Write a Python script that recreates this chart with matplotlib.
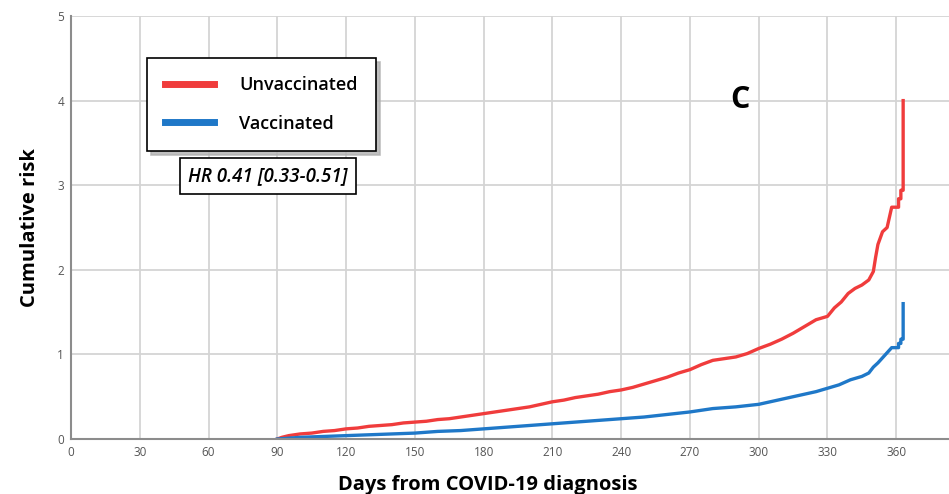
import matplotlib
matplotlib.use('Agg')
from matplotlib import pyplot as plt

# cumulative risk (days from diagnosis, risk)
# repeated days = vertical jumps at the end of follow-up
red_days = [90, 92, 95, 100, 105, 110, 115, 120, 125, 130, 135, 140, 145, 150, 155, 160,
            165, 170, 175, 180, 185, 190, 195, 200, 205, 210, 215, 220, 225, 230, 235, 240,
            245, 250, 255, 260, 265, 270, 275, 280, 285, 290, 295, 300, 305, 310, 315, 320,
            325, 330, 333, 336, 339, 342, 345, 348, 350, 351, 352, 354, 356, 357, 358, 361,
            361, 362, 362, 363, 363]
red_risk = [0.00, 0.02, 0.04, 0.06, 0.07, 0.09, 0.10, 0.12, 0.13, 0.15, 0.16, 0.17, 0.19, 0.20,
            0.21, 0.23, 0.24, 0.26, 0.28, 0.30, 0.32, 0.34, 0.36, 0.38, 0.41, 0.44, 0.46, 0.49,
            0.51, 0.53, 0.56, 0.58, 0.61, 0.65, 0.69, 0.73, 0.78, 0.82, 0.88, 0.93, 0.95, 0.97,
            1.01, 1.07, 1.12, 1.18, 1.25, 1.33, 1.41, 1.45, 1.55, 1.62, 1.72, 1.78, 1.82, 1.88,
            1.98, 2.15, 2.30, 2.45, 2.50, 2.62, 2.74, 2.74, 2.84, 2.84, 2.94, 2.94, 4.00]

blue_days = [90, 95, 100, 110, 120, 130, 140, 150, 160, 170, 180, 190, 200, 210, 220, 230,
             240, 250, 260, 270, 280, 290, 300, 305, 310, 315, 320, 325, 330, 335, 340, 345,
             348, 350, 352, 354, 356, 358, 361, 361, 362, 362, 363, 363]
blue_risk = [0.00, 0.01, 0.02, 0.03, 0.04, 0.05, 0.06, 0.07, 0.09, 0.10, 0.12, 0.14, 0.16,
             0.18, 0.20, 0.22, 0.24, 0.26, 0.29, 0.32, 0.36, 0.38, 0.41, 0.44, 0.47, 0.50,
             0.53, 0.56, 0.60, 0.64, 0.70, 0.74, 0.78, 0.85, 0.90, 0.96, 1.02, 1.08, 1.08,
             1.13, 1.13, 1.18, 1.18, 1.60]

x_ticks = [0, 30, 60, 90, 120, 150, 180, 210, 240, 270, 300, 330, 360]
y_ticks = [0, 1, 2, 3, 4, 5]

plt.rcParams['font.family'] = ['Open Sans', 'DejaVu Sans']

fig = plt.figure(figsize=(9.49, 4.94), dpi=100)
ax = fig.add_axes([0.0748, 0.1113, 0.9252, 0.8563])

ax.plot(red_days, red_risk, color='#f03c3c', lw=2.4, label='Unvaccinated')
ax.plot(blue_days, blue_risk, color='#1f78c8', lw=2.4, label='Vaccinated')

ax.set_xlim(0, 383)
ax.set_ylim(0, 5)
ax.set_xticks(x_ticks)
ax.set_yticks(y_ticks)
ax.grid(True, color='#d4d4d4', lw=1.3)
ax.set_axisbelow(True)
for s in ['top', 'right']:
    ax.spines[s].set_visible(False)
for s in ['left', 'bottom']:
    ax.spines[s].set_color('#8c8c8c')
    ax.spines[s].set_linewidth(1.5)
ax.tick_params(length=0, labelsize=8.5, labelcolor='#555555', pad=5)

ax.set_xlabel('Days from COVID-19 diagnosis', fontsize=14.5, fontweight='bold')
ax.xaxis.set_label_coords(0.475, -0.085)
ax.set_ylabel('Cumulative risk', fontsize=14.5, fontweight='bold', labelpad=12)

leg = ax.legend(loc='upper left', bbox_to_anchor=(0.155, 0.8826), bbox_transform=fig.transFigure,
                fancybox=False, shadow={'ox': 3, 'oy': -3, 'color': '#b0b0b0', 'alpha': 0.8},
                framealpha=1, edgecolor='black',
                prop={'size': 13, 'weight': 'semibold'}, handlelength=2.7, handletextpad=1.4,
                labelspacing=1.15, borderpad=1.0, borderaxespad=0)
leg.get_frame().set_linewidth(1.2)
for line in leg.get_lines():
    line.set_linewidth(5)

fig.text(0.2824, 0.6437, 'HR 0.41 [0.33-0.51]', ha='center', va='center', fontsize=13.5,
         style='italic', fontweight='semibold',
         bbox=dict(boxstyle='square,pad=0.45', fc='white', ec='black', lw=1.2))

ax.text(0.7795, 0.7976, 'C', transform=fig.transFigure, ha='center', va='center',
        fontsize=22, fontweight='bold')

plt.savefig('out.png', dpi=100)
